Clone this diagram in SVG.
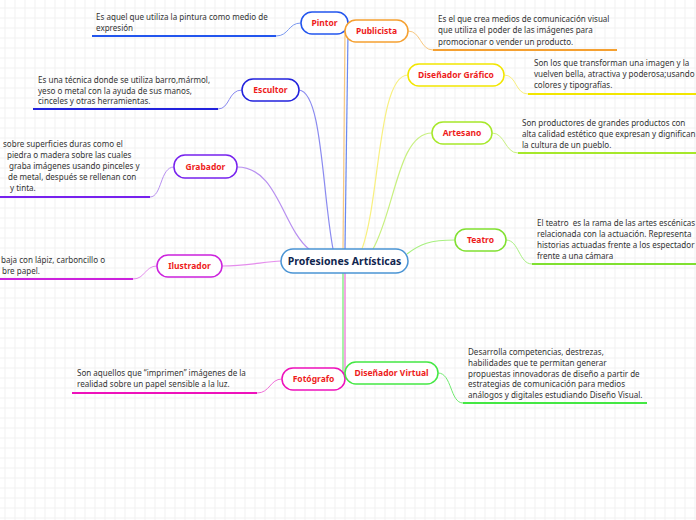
<svg xmlns="http://www.w3.org/2000/svg" width="696" height="520" viewBox="0 0 696 520">
<defs>
<pattern id="grid" patternUnits="userSpaceOnUse" width="10" height="10">
<path d="M5,0 V10 M0,8 H10" stroke="#f1f1f1" stroke-width="1" fill="none"/>
</pattern>
</defs>
<style>
.node rect{fill:#fff;stroke-width:1.5}
.nt{font-family:"Noto Sans","Open Sans",sans-serif;font-size:8.5px;font-weight:bold;fill:#ee1c1c;text-anchor:middle}
.ct{font-family:"Noto Sans","Open Sans",sans-serif;font-size:10.5px;font-weight:bold;fill:#10264f;text-anchor:middle}
.d{font-family:"Noto Sans","Open Sans",sans-serif;font-size:8.05px;fill:#333}
.br{fill:none;stroke-width:1.2}
.lk{fill:none;stroke-width:1}
.ul{fill:none;stroke-width:2}
</style>
<rect width="696" height="520" fill="#fff"/>
<rect width="696" height="520" fill="url(#grid)"/>

<g id="connectors">
<path class="br" stroke="#6a88f0" d="M345,249 C346,150 348,60 348,33"/>
<path class="br" stroke="#f8c880" d="M343,249 C344,150 345,60 345,31"/>
<path class="br" stroke="#8a8af0" d="M333,249 C322,190 322,92 299,90"/>
<path class="br" stroke="#b890f0" d="M310,250 C282,228 278,167 237,167"/>
<path class="br" stroke="#e48cec" d="M281,261 C262,262 248,266 222,266"/>
<path class="br" stroke="#f8f080" d="M362,249 C380,200 378,75 408,75"/>
<path class="br" stroke="#c8f080" d="M373,249 C395,210 398,133 432,133"/>
<path class="br" stroke="#a8f080" d="M407,254 C420,244 430,240 455,240"/>
<path class="br" stroke="#70ea70" d="M343,273 V373 H345"/>
<path class="br" stroke="#f070d8" d="M345,273 V379"/>

<path class="lk" stroke="#7a98f0" d="M301,23 C288,23 289,36 276,36"/>
<path class="ul" stroke="#2255ee" d="M92,36 H276"/>
<path class="lk" stroke="#8a8af0" d="M242,90 C228,90 230,109 218,109"/>
<path class="ul" stroke="#2222dd" d="M33,109 H218"/>
<path class="lk" stroke="#b890f0" d="M174,167 C160,167 162,197 150,197"/>
<path class="ul" stroke="#7722ee" d="M0,197 H150"/>
<path class="lk" stroke="#e48cec" d="M157,266 C145,266 145,279 133,279"/>
<path class="ul" stroke="#cc22dd" d="M0,279 H133"/>
<path class="lk" stroke="#f070d8" d="M282,379 C270,379 270,393 257,393"/>
<path class="ul" stroke="#ee11bb" d="M72,393 H257"/>
<path class="lk" stroke="#f8c880" d="M408,31 C421,31 420,50 433,50"/>
<path class="ul" stroke="#f5a030" d="M433,50 H617"/>
<path class="lk" stroke="#f8f080" d="M504,75 C517,75 515,94 528,94"/>
<path class="ul" stroke="#f2e600" d="M528,94 H696"/>
<path class="lk" stroke="#c8f080" d="M492,133 C505,133 505,153 518,153"/>
<path class="ul" stroke="#a6e82a" d="M518,153 H696"/>
<path class="lk" stroke="#a8f080" d="M506,240 C519,240 519,264 532,264"/>
<path class="ul" stroke="#80e030" d="M532,264 H696"/>
<path class="lk" stroke="#70ea70" d="M438,373 C452,373 450,403 463,403"/>
<path class="ul" stroke="#44e844" d="M463,403 H647"/>
</g>

<g id="center" class="node">
<rect x="281" y="249" width="127" height="24" rx="12" stroke="#4a94d4"/>
<text class="ct" x="344.5" y="265">Profesiones Artísticas</text>
</g>
<g id="pintor" class="node">
<rect x="301" y="12" width="47" height="22" rx="11" stroke="#2255ee"/>
<text class="nt" x="324.5" y="26">Pintor</text>
</g>
<g id="publicista" class="node">
<rect x="345" y="20" width="63" height="22" rx="11" stroke="#f5a030"/>
<text class="nt" x="376.5" y="34">Publicista</text>
</g>
<g id="escultor" class="node">
<rect x="242" y="79" width="57" height="22" rx="11" stroke="#2222dd"/>
<text class="nt" x="270.5" y="93">Escultor</text>
</g>
<g id="grabador" class="node">
<rect x="174" y="155" width="63" height="23" rx="11" stroke="#7722ee"/>
<text class="nt" x="205.5" y="169.5">Grabador</text>
</g>
<g id="ilustrador" class="node">
<rect x="157" y="255" width="65" height="22" rx="11" stroke="#cc22dd"/>
<text class="nt" x="189.5" y="269">Ilustrador</text>
</g>
<g id="fotografo" class="node">
<rect x="282" y="368" width="63" height="22" rx="11" stroke="#ee11bb"/>
<text class="nt" x="313.5" y="382">Fotógrafo</text>
</g>
<g id="disenador-grafico" class="node">
<rect x="408" y="64" width="96" height="22" rx="11" stroke="#f2e600"/>
<text class="nt" x="456" y="78">Diseñador Gráfico</text>
</g>
<g id="artesano" class="node">
<rect x="432" y="122" width="60" height="22" rx="11" stroke="#a6e82a"/>
<text class="nt" x="462" y="136">Artesano</text>
</g>
<g id="teatro" class="node">
<rect x="455" y="229" width="51" height="22" rx="11" stroke="#80e030"/>
<text class="nt" x="480.5" y="243">Teatro</text>
</g>
<g id="disenador-virtual" class="node">
<rect x="345" y="362" width="93" height="22" rx="11" stroke="#44e844"/>
<text class="nt" x="391.5" y="376">Diseñador Virtual</text>
</g>

<g id="texts">
<text class="d" x="96" y="20">Es aquel que utiliza la pintura como medio de</text>
<text class="d" x="96" y="31">expresión</text>

<text class="d" x="38" y="83">Es una técnica donde se utiliza barro,mármol,</text>
<text class="d" x="38" y="94">yeso o metal con la ayuda de sus manos,</text>
<text class="d" x="38" y="104">cinceles y otras herramientas.</text>

<text class="d" x="3" y="147">sobre superficies duras como el</text>
<text class="d" x="7" y="158">piedra o madera sobre las cuales</text>
<text class="d" x="9" y="169">graba imágenes usando pinceles y</text>
<text class="d" x="8" y="180">de metal, después se rellenan con</text>
<text class="d" x="10" y="191">y tinta.</text>

<text class="d" x="1" y="263">baja con lápiz, carboncillo o</text>
<text class="d" x="2" y="274">bre papel.</text>

<text class="d" x="77" y="376">Son aquellos que “imprimen” imágenes de la</text>
<text class="d" x="77" y="387">realidad sobre un papel sensible a la luz.</text>

<text class="d" x="438" y="22">Es el que crea medios de comunicación visual</text>
<text class="d" x="438" y="33">que utiliza el poder de las imágenes para</text>
<text class="d" x="438" y="45">promocionar o vender un producto.</text>

<text class="d" x="534" y="66">Son los que transforman una imagen y la</text>
<text class="d" x="534" y="77">vuelven bella, atractiva y poderosa;usando</text>
<text class="d" x="534" y="88">colores y tipografías.</text>

<text class="d" x="522" y="126">Son productores de grandes productos con</text>
<text class="d" x="522" y="137">alta calidad estético que expresan y dignifican</text>
<text class="d" x="522" y="148">la cultura de un pueblo.</text>

<text class="d" x="537" y="226" xml:space="preserve">El teatro  es la rama de las artes escénicas</text>
<text class="d" x="537" y="237">relacionada con la actuación. Representa</text>
<text class="d" x="537" y="248">historias actuadas frente a los espectador</text>
<text class="d" x="537" y="259">frente a una cámara</text>

<text class="d" x="468" y="355">Desarrolla competencias, destrezas,</text>
<text class="d" x="468" y="366">habilidades que te permitan generar</text>
<text class="d" x="468" y="377">propuestas innovadoras de diseño a partir de</text>
<text class="d" x="468" y="387">estrategias de comunicación para medios</text>
<text class="d" x="468" y="398">análogos y digitales estudiando Diseño Visual.</text>
</g>
</svg>
